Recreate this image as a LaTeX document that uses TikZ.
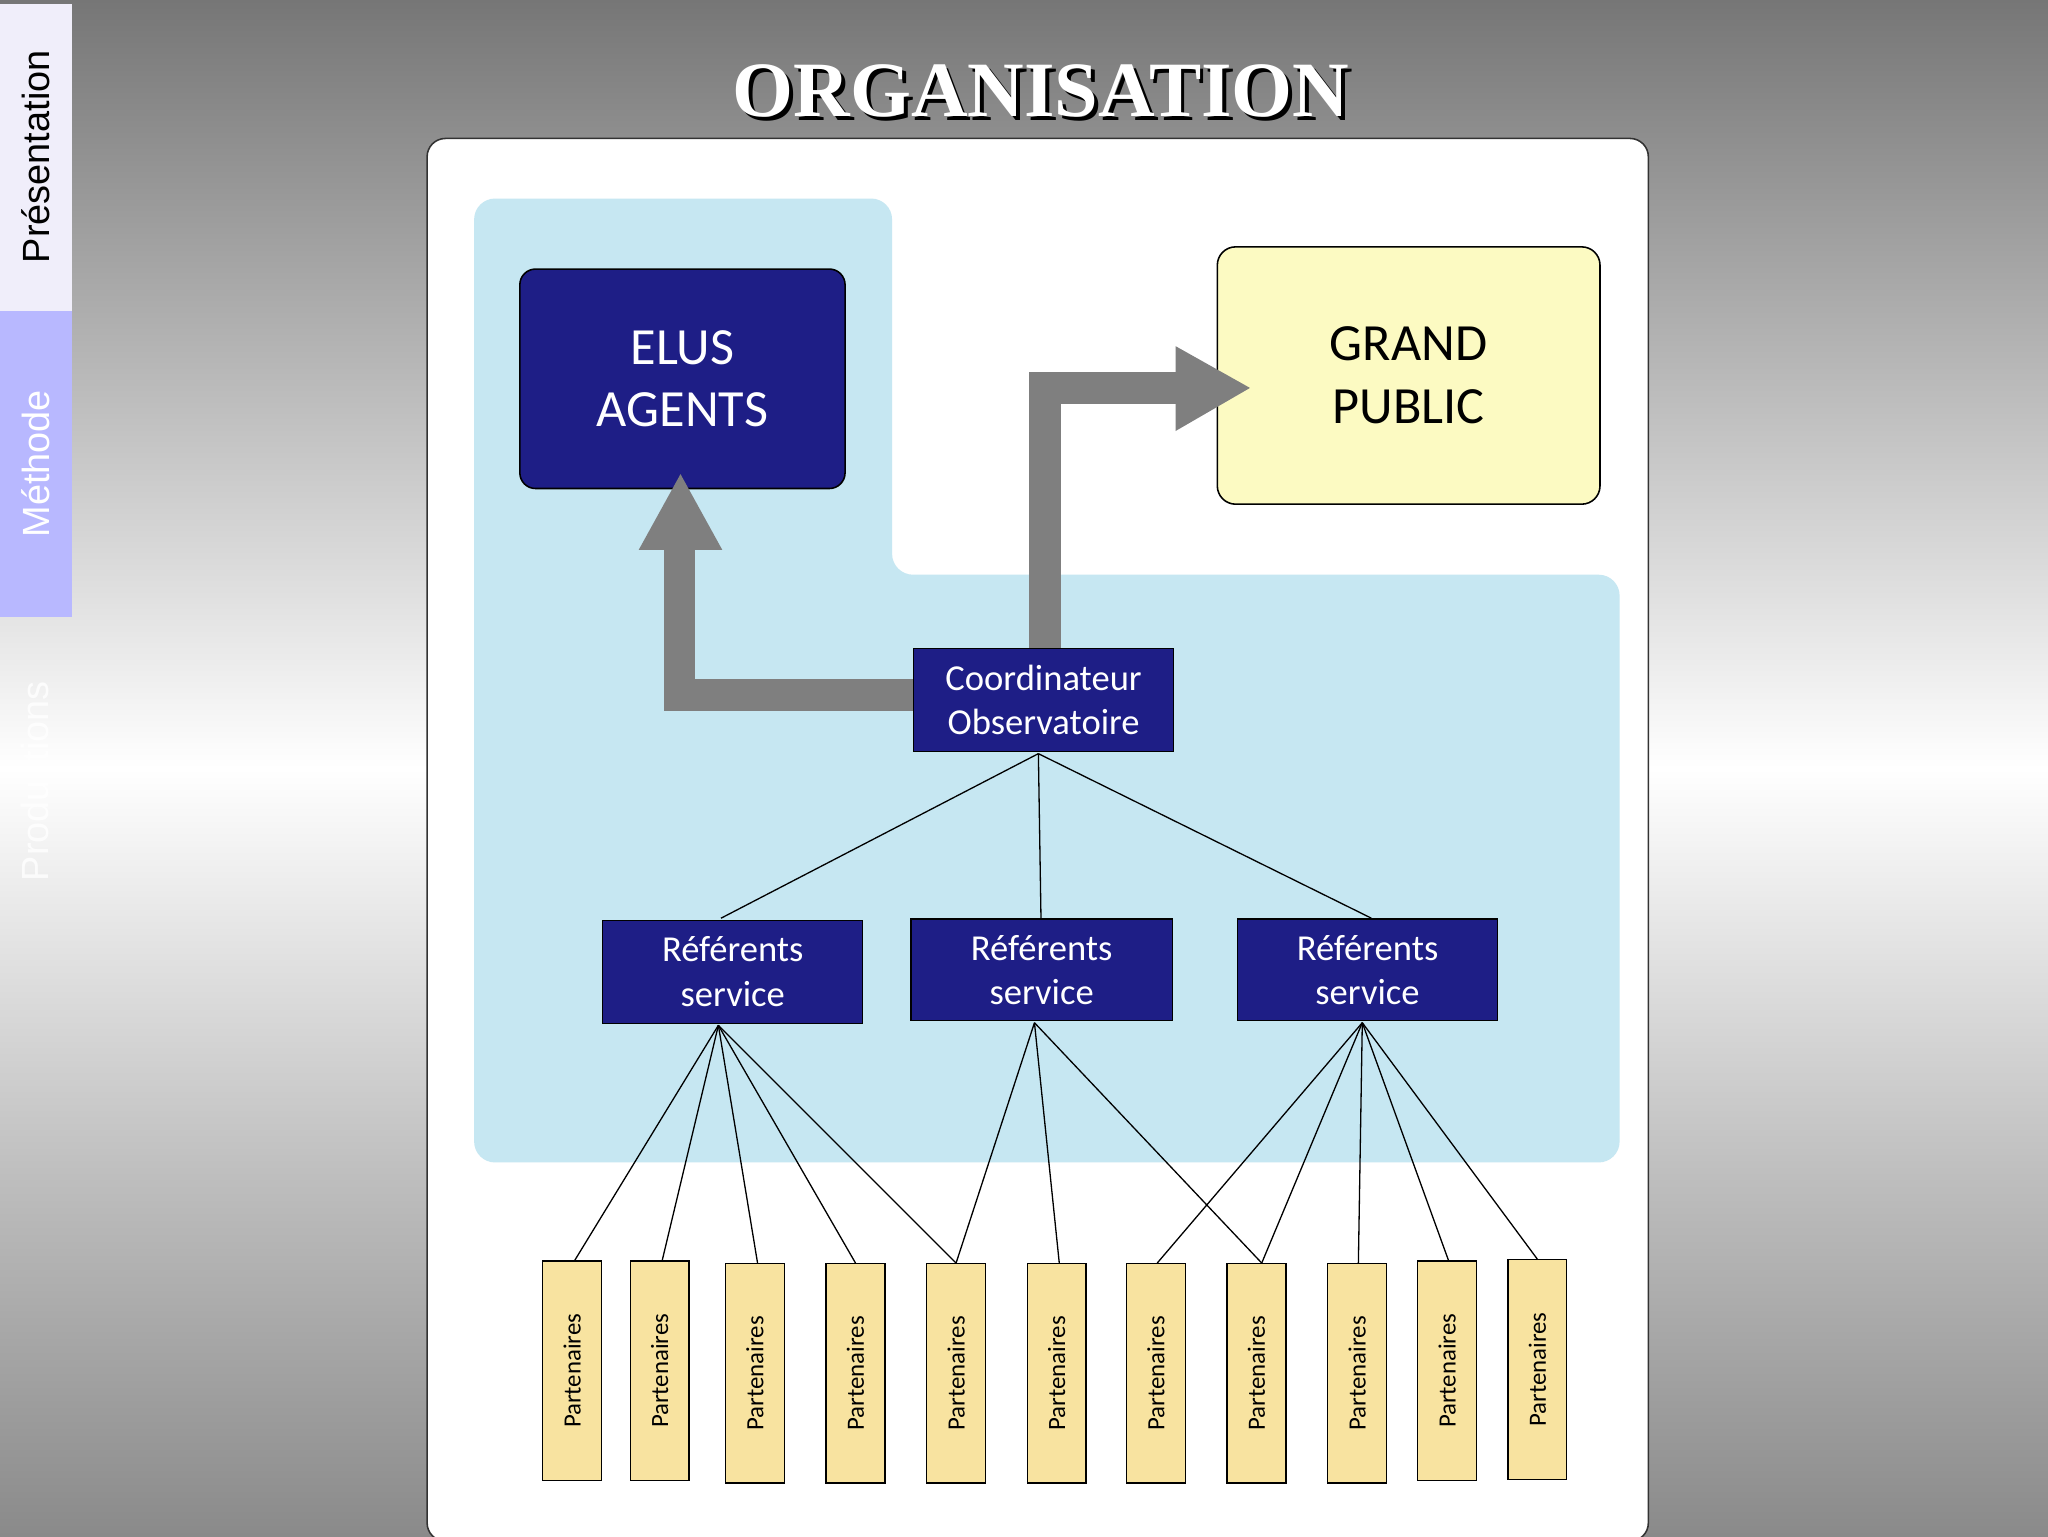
\documentclass[tikz,border=0pt]{standalone}
\usepackage{fontspec}
\setmainfont{Liberation Sans}
\newfontfamily\boxf{Carlito}
\newfontfamily\titf{Liberation Serif}
\definecolor{bgA}{HTML}{8A8A8A}
\definecolor{bgB}{HTML}{BDBDBD}
\definecolor{bgC}{HTML}{767676}
\definecolor{navy}{HTML}{1E1E86}
\definecolor{lblue}{HTML}{C6E7F2}
\definecolor{pale}{HTML}{FCFAC2}
\definecolor{part}{HTML}{F8E3A0}
\definecolor{arr}{HTML}{7F7F7F}
\pgfdeclareverticalshading{bgsh}{100bp}{color(0bp)=(bgA);color(25bp)=(bgA);color(36.5bp)=(bgB);color(50bp)=(white);color(62bp)=(bgB);color(75bp)=(bgC);color(100bp)=(bgC)}
\begin{document}
\begin{tikzpicture}[x=1pt,y=-1pt,
  nb/.style={draw=black,fill=navy,text=white,font=\boxf\fontsize{28}{34}\selectfont,align=center,line width=1pt,anchor=north west,inner sep=0pt},
  pb/.style={draw=black,fill=part,line width=1pt,minimum width=45pt,minimum height=168pt,anchor=north,inner sep=0pt},
  ln/.style={line width=1pt}]
\useasboundingbox (0,0) rectangle (1568,1176);
\shade[shading=bgsh] (0,0) rectangle (1568,1176);
% tabs
\fill[fill={rgb,255:red,240;green,238;blue,250}] (0,3) rectangle (55,238);
\fill[fill={rgb,255:red,184;green,184;blue,255}] (0,238) rectangle (55,472);
\node[rotate=90,font=\fontsize{29}{32}\selectfont] (t1) at (27,120) {Présentation};
\node[rotate=90,font=\fontsize{29}{32}\selectfont,text=white] (t2) at (27,355) {Méthode};
\node[rotate=90,font=\fontsize{29}{32}\selectfont,text=white,opacity=0.8] (t3) at (27,598) {Productions};
% title
\node[font=\titf\bfseries\fontsize{60}{64}\selectfont,text=black] at (800,73) {ORGANISATION};
\node[font=\titf\bfseries\fontsize{60}{64}\selectfont,text=white] (title) at (797,70) {ORGANISATION};
% panel
\draw[fill=white,draw=black!80,line width=1.2pt,rounded corners=14pt] (327,106) rectangle (1262,1180);
\fill[lblue,rounded corners=16pt] (363,152) -- (683,152) -- (683,440) -- (1240,440) -- (1240,890) -- (363,890) -- cycle;
% big boxes
\node[draw=black,fill=navy,text=white,rounded corners=12pt,line width=1.2pt,minimum width=249pt,minimum height=168pt,align=center,font=\boxf\fontsize{40}{48}\selectfont] (elus) at (522.5,290) {ELUS\\AGENTS};
\node[draw=black,fill=pale,rounded corners=14pt,line width=1.2pt,minimum width=293pt,minimum height=197pt,align=center,font=\boxf\fontsize{40}{48}\selectfont] (gp) at (1078.5,287.5) {GRAND\\PUBLIC};
% coordinator
\node[nb,minimum width=199pt,minimum height=79pt] (co) at (699,496) {Coordinateur\\Observatoire};
% arrows
\coordinate (a1) at (520,532); \coordinate (a2) at (800,297);
\draw[arr,line width=24pt] (co.west |- a1) -- (a1) -- (520,418);
\fill[arr] (489,421) -- (521,363) -- (553,421) -- cycle;
\draw[arr,line width=24pt] (800,496) -- (a2) -- (902,297);
\fill[arr] (900,265) -- (957,297) -- (900,330) -- cycle;
% referents
\node[nb,minimum width=199pt,minimum height=79pt] (r1) at (461,704) {Référents\\service};
\node[nb,minimum width=200pt,minimum height=78pt] (r2) at (697,703) {Référents\\service};
\node[nb,minimum width=199pt,minimum height=78pt] (r3) at (947,703) {Référents\\service};
\draw[ln] (795,577) -- (552,703) (795,577) -- (797,703) (795,577) -- (1050,703);
% partenaires
\foreach \i/\x/\y in {1/438/965,2/505/965,3/578/967,4/655/967,5/732/967,6/809/967,7/885/967,8/962/967,9/1039/967,10/1108/965,11/1177/964}{
  \node[pb] (p\i) at (\x,\y) {};
  \node[rotate=90,font=\boxf\fontsize{19}{22}\selectfont] at (p\i.center) {Partenaires};
}
\coordinate (b1) at (550,785); \coordinate (b2) at (792,783); \coordinate (b3) at (1043,783);
\foreach \p/\dx in {1/2,2/2,3/2,4/0,5/0}{\draw[ln] (b1) -- ([xshift=\dx pt]p\p.north);}
\foreach \p/\dx in {5/0,6/2,8/4}{\draw[ln] (b2) -- ([xshift=\dx pt]p\p.north);}
\foreach \p/\dx in {7/1,8/4,9/1,10/1,11/0}{\draw[ln] (b3) -- ([xshift=\dx pt]p\p.north);}
\end{tikzpicture}
\end{document}
